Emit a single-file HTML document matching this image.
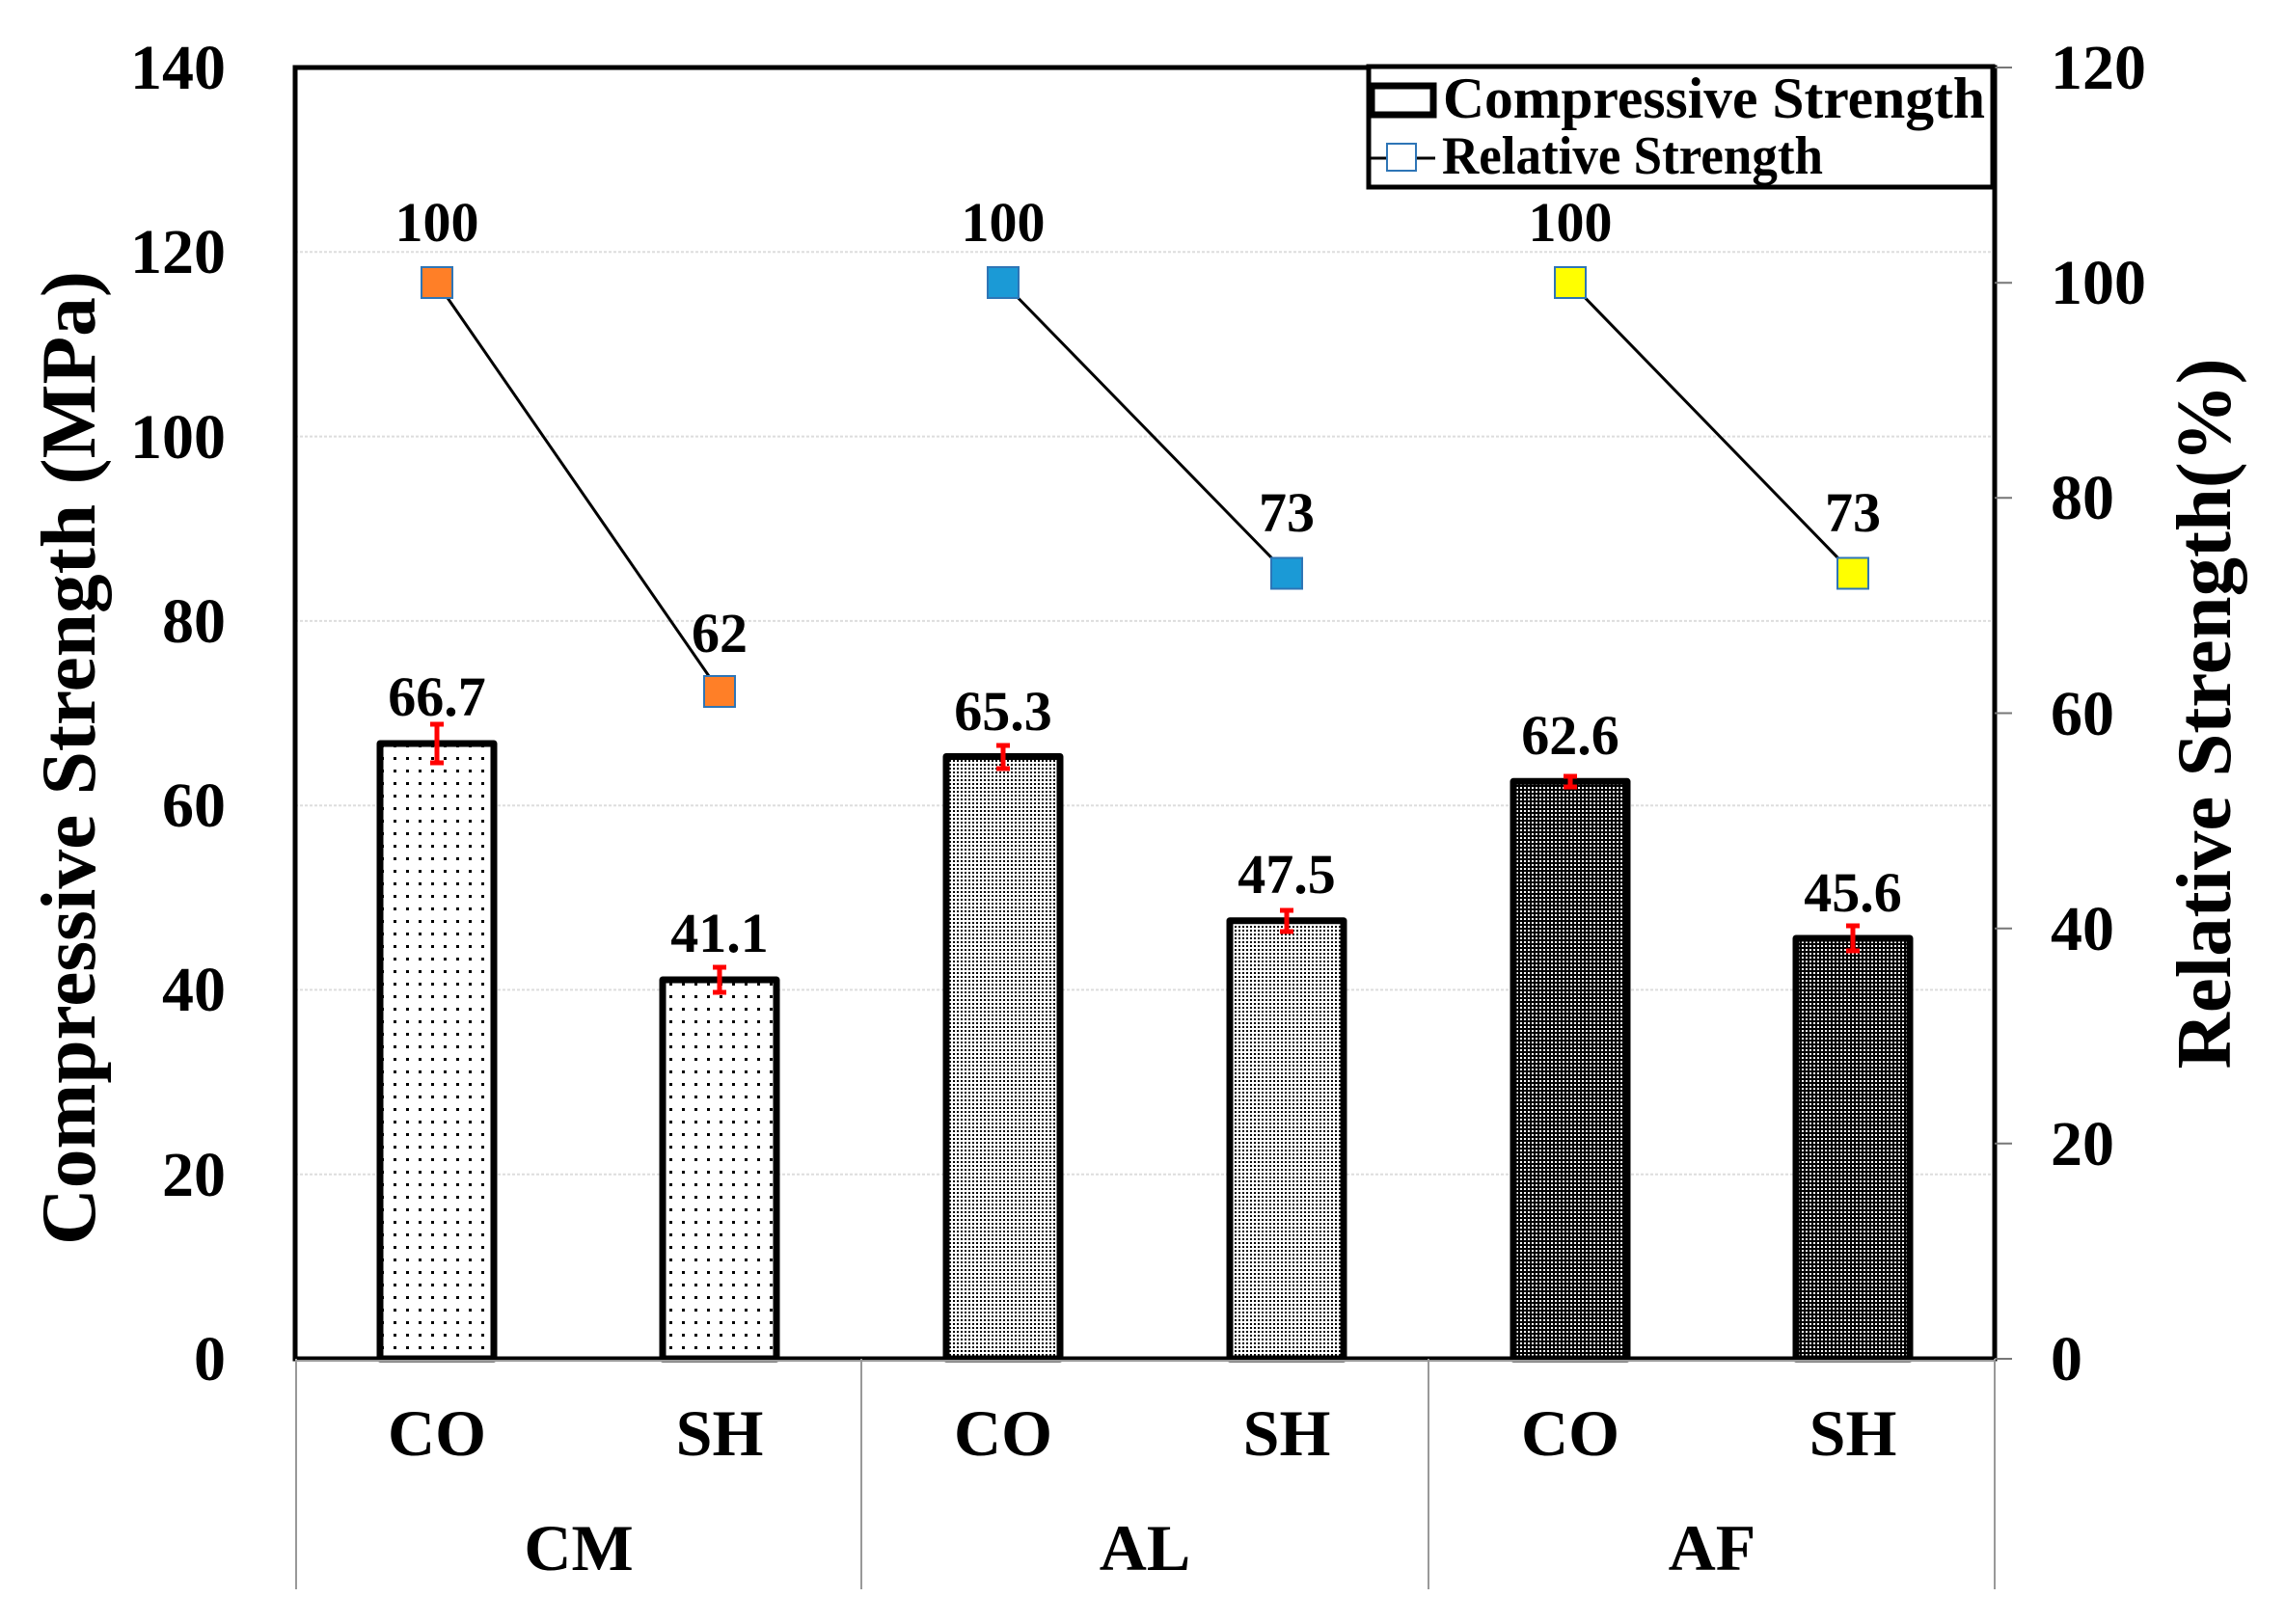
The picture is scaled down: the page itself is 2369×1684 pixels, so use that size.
<!DOCTYPE html>
<html><head><meta charset="utf-8"><style>html,body{margin:0;padding:0;background:#fff}svg{display:block}</style></head><body>
<svg width="2369" height="1684" viewBox="0 0 2369 1684" xmlns="http://www.w3.org/2000/svg" font-family="Liberation Serif, serif" font-weight="bold">
<defs>
<pattern id="pCM" width="13" height="13" patternUnits="userSpaceOnUse"><rect width="13" height="13" fill="#fff"/><rect x="5" y="5" width="3" height="3" fill="#000"/></pattern>
<pattern id="pAL" width="4" height="4" patternUnits="userSpaceOnUse"><rect width="4" height="4" fill="#fff"/><rect x="0" y="0" width="2" height="2" fill="#000"/></pattern>
<pattern id="pAF" width="4" height="4" patternUnits="userSpaceOnUse"><rect width="4" height="4" fill="#000"/><rect x="0" y="0" width="2" height="2" fill="#fff"/></pattern>
</defs>
<rect width="2369" height="1684" fill="#fff"/>
<g stroke="#ddd" stroke-width="2" stroke-dasharray="3,2">
<line x1="306" x2="2068" y1="1217.7" y2="1217.7"/>
<line x1="306" x2="2068" y1="1026.4" y2="1026.4"/>
<line x1="306" x2="2068" y1="835.2" y2="835.2"/>
<line x1="306" x2="2068" y1="643.9" y2="643.9"/>
<line x1="306" x2="2068" y1="452.6" y2="452.6"/>
<line x1="306" x2="2068" y1="261.3" y2="261.3"/>
</g>
<g stroke="#000" stroke-width="7" stroke-linejoin="round">
<rect x="394" y="771" width="118" height="638" fill="url(#pCM)"/>
<rect x="687" y="1016" width="118" height="393" fill="url(#pCM)"/>
<rect x="981" y="784.5" width="118" height="624.5" fill="url(#pAL)"/>
<rect x="1275" y="954.7" width="118" height="454.3" fill="url(#pAL)"/>
<rect x="1569" y="810.3" width="118" height="598.7" fill="url(#pAF)"/>
<rect x="1862" y="973" width="118" height="436" fill="url(#pAF)"/>
</g>
<g stroke="#f00" stroke-width="5">
<path d="M453 751V791M446 751H460M446 791H460"/>
<path d="M746 1003V1029M739 1003H753M739 1029H753"/>
<path d="M1040 773V797M1033 773H1047M1033 797H1047"/>
<path d="M1334 944V966M1327 944H1341M1327 966H1341"/>
<path d="M1628 805V816M1621 805H1635M1621 816H1635"/>
<path d="M1921 960V986M1914 960H1928M1914 986H1928"/>
</g>
<rect x="306" y="70" width="1762" height="1339" fill="none" stroke="#000" stroke-width="5"/>
<line x1="2068" y1="70" x2="2068" y2="1409" stroke="#000" stroke-width="3"/>
<g stroke="#777" stroke-width="2">
<line x1="2068" x2="2086" y1="70" y2="70"/><line x1="2068" x2="2086" y1="293.2" y2="293.2"/><line x1="2068" x2="2086" y1="516.3" y2="516.3"/><line x1="2068" x2="2086" y1="739.5" y2="739.5"/><line x1="2068" x2="2086" y1="962.7" y2="962.7"/><line x1="2068" x2="2086" y1="1185.8" y2="1185.8"/><line x1="2068" x2="2086" y1="1409" y2="1409"/>
</g>
<g stroke="#999" stroke-width="2">
<line x1="306" x2="2068" y1="1411" y2="1411"/>
<line x1="307" x2="307" y1="1409" y2="1648"/><line x1="893" x2="893" y1="1409" y2="1648"/><line x1="1481" x2="1481" y1="1409" y2="1648"/><line x1="2068" x2="2068" y1="1409" y2="1648"/>
</g>
<g stroke="#000" stroke-width="3">
<line x1="453" y1="293" x2="746" y2="717"/>
<line x1="1040" y1="293" x2="1334" y2="594.5"/>
<line x1="1628" y1="293" x2="1921" y2="594.5"/>
</g>
<g stroke="#2e75b6" stroke-width="2">
<rect x="437" y="277" width="32" height="32" fill="#ff7f27"/>
<rect x="730" y="701" width="32" height="32" fill="#ff7f27"/>
<rect x="1024" y="277" width="32" height="32" fill="#1b9ad6"/>
<rect x="1318" y="578.5" width="32" height="32" fill="#1b9ad6"/>
<rect x="1612" y="277" width="32" height="32" fill="#ffff00"/>
<rect x="1905" y="578.5" width="32" height="32" fill="#ffff00"/>
</g>
<g font-size="58" text-anchor="middle" fill="#000">
<text x="453" y="250">100</text><text x="746" y="676">62</text>
<text x="1040" y="250">100</text><text x="1334" y="551">73</text>
<text x="1628" y="250">100</text><text x="1921" y="551">73</text>
<text x="453" y="742">66.7</text><text x="746" y="987">41.1</text>
<text x="1040" y="757">65.3</text><text x="1334" y="926">47.5</text>
<text x="1628" y="782">62.6</text><text x="1921" y="945">45.6</text>
</g>
<g font-size="66" text-anchor="end" fill="#000">
<text x="234" y="92">140</text><text x="234" y="283">120</text><text x="234" y="475">100</text><text x="234" y="666">80</text><text x="234" y="857">60</text><text x="234" y="1048">40</text><text x="234" y="1240">20</text><text x="234" y="1431">0</text>
</g>
<g font-size="66" text-anchor="start" fill="#000">
<text x="2126" y="92">120</text><text x="2126" y="315">100</text><text x="2126" y="538">80</text><text x="2126" y="762">60</text><text x="2126" y="985">40</text><text x="2126" y="1208">20</text><text x="2126" y="1431">0</text>
</g>
<g font-size="68" text-anchor="middle" fill="#000">
<text x="453" y="1509">CO</text><text x="746" y="1509">SH</text><text x="1040" y="1509">CO</text><text x="1334" y="1509">SH</text><text x="1628" y="1509">CO</text><text x="1921" y="1509">SH</text>
<text x="600" y="1628">CM</text><text x="1187" y="1628">AL</text><text x="1775" y="1628">AF</text>
</g>
<text transform="translate(98,786) rotate(-90)" font-size="80" text-anchor="middle" textLength="1010" lengthAdjust="spacingAndGlyphs">Compressive Strength (MPa)</text>
<text transform="translate(2312,740) rotate(-90)" font-size="80" text-anchor="middle" textLength="737" lengthAdjust="spacingAndGlyphs">Relative Strength(%)</text>
<rect x="1419" y="69" width="647" height="125" fill="#fff" stroke="#000" stroke-width="5"/>
<rect x="1422" y="89" width="64" height="30" fill="#fff" stroke="#000" stroke-width="7"/>
<text x="1496" y="122" font-size="60" textLength="562" lengthAdjust="spacingAndGlyphs">Compressive Strength</text>
<line x1="1420" y1="164" x2="1488" y2="164" stroke="#000" stroke-width="3"/>
<rect x="1438" y="149" width="30" height="28" fill="#fff" stroke="#2e75b6" stroke-width="2"/>
<text x="1495" y="180" font-size="56" textLength="395" lengthAdjust="spacingAndGlyphs">Relative Strength</text>
</svg>
</body></html>
